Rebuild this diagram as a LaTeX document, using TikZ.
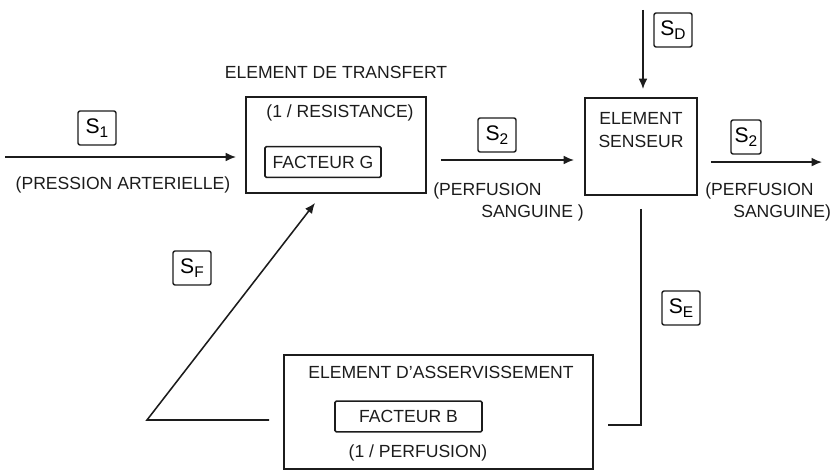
\documentclass[tikz,border=0pt]{standalone}
\usepackage{fontspec}
\setmainfont{Liberation Sans}
\usetikzlibrary{arrows.meta,positioning}
\definecolor{inkblack}{HTML}{1C1C1C}
\newcommand{\sig}[1]{S\raisebox{-0.35ex}{\fontsize{11}{11}\selectfont #1}}
\tikzset{
  blockBox/.style={draw=inkblack, line width=1.3pt, inner sep=0pt},
  facBox/.style={draw=inkblack, line width=1.1pt, rounded corners=1pt, minimum height=0.77cm, inner sep=2pt},
  sigBox/.style={draw=inkblack, line width=1pt, rounded corners=1.5pt, minimum width=0.95cm, minimum height=0.85cm, inner sep=1pt, font=\fontsize{15}{16}\selectfont},
  sigArrow/.style={-{Latex[length=2.6mm,width=2.2mm]}, line width=1.1pt, draw=inkblack},
  sigLine/.style={line width=0.9pt, draw=inkblack},
  blockLabel/.style={font=\fontsize{12.5}{16}\selectfont, text=inkblack, inner sep=0pt}
}

\begin{document}
\begin{tikzpicture}[x=0.025cm,y=-0.025cm]
  \useasboundingbox (0,0) rectangle (830,472);
  % blocks
  \node[blockBox, minimum width=4.5cm, minimum height=2.4cm] (transfer) at (336,145) {};
  \node[blockLabel] (transferTitle) at (336,72) {ELEMENT DE TRANSFERT};
  \node[blockLabel] (resist) at (340,113) {(1 / RESISTANCE)};
  \node[blockLabel, facBox, minimum width=2.9cm] (facG) at (323,162) {FACTEUR G};
  \node[blockBox, minimum width=2.8cm, minimum height=2.425cm] (sensor) at (641,146.5) {};
  \node[blockLabel, align=center] (sensorTxt) at (641,130) {ELEMENT\\SENSEUR};
  \node[blockBox, minimum width=7.725cm, minimum height=2.85cm] (asserv) at (438.5,412) {};
  \node[blockLabel] (asservTitle) at (441,372) {ELEMENT D'ASSERVISSEMENT};
  \node[blockLabel, facBox, minimum width=3.675cm] (facB) at (408.5,416.5) {FACTEUR B};
  \node[blockLabel] (invPerf) at (418,453) {(1 / PERFUSION)};
  % signals
  \node[sigBox] (s1) at (97,128) {\sig{1}};
  \node[sigBox] (s2a) at (497,135) {\sig{2}};
  \node[sigBox, minimum width=0.75cm] (s2b) at (746,137) {\sig{2}};
  \node[sigBox] (sd) at (673,30) {\sig{D}};
  \node[sigBox] (sf) at (192,268) {\sig{F}};
  \node[sigBox] (se) at (681,308) {\sig{E}};
  \node[blockLabel] (pression) at (123,185) {(PRESSION ARTERIELLE)};
  \node[blockLabel, align=left, anchor=north west] (perfA) at (433,182) {(PERFUSION\\\hspace*{1.2cm}SANGUINE )};
  \node[blockLabel, align=left, anchor=north west] (perfB) at (705,182) {(PERFUSION\\\hspace*{0.7cm}SANGUINE)};
  % free ends
  \coordinate (inStart) at (5,157);
  \coordinate (outEnd) at (822,162);
  \coordinate (sdStart) at (643,10);
  \coordinate (fbCorner) at (147,420);
  \coordinate (fbTip) at (315,203);
  \coordinate (seCorner) at (641,425);
  % connectors
  \draw[sigArrow, shorten >=0.225cm] (inStart) -- (transfer.west |- inStart);
  \draw[sigArrow, shorten <=0.35cm, shorten >=0.25cm] ([yshift=-0.375cm]transfer.east) -- ([yshift=-0.375cm]transfer.east -| sensor.west);
  \draw[sigArrow, shorten <=0.325cm] ([yshift=-0.39cm]sensor.east) -- ([yshift=-0.39cm]sensor.east -| outEnd);
  \draw[sigArrow, shorten >=0.2cm] (sdStart) -- (sensor.north -| sdStart);
  \draw[sigArrow, shorten <=0.35cm] (asserv.west |- fbCorner) -- (fbCorner) -- (fbTip);
  \draw[sigLine, shorten <=0.325cm, shorten >=0.35cm] (sensor.south) -- (seCorner) -- (asserv.east |- seCorner);
\end{tikzpicture}
\end{document}
